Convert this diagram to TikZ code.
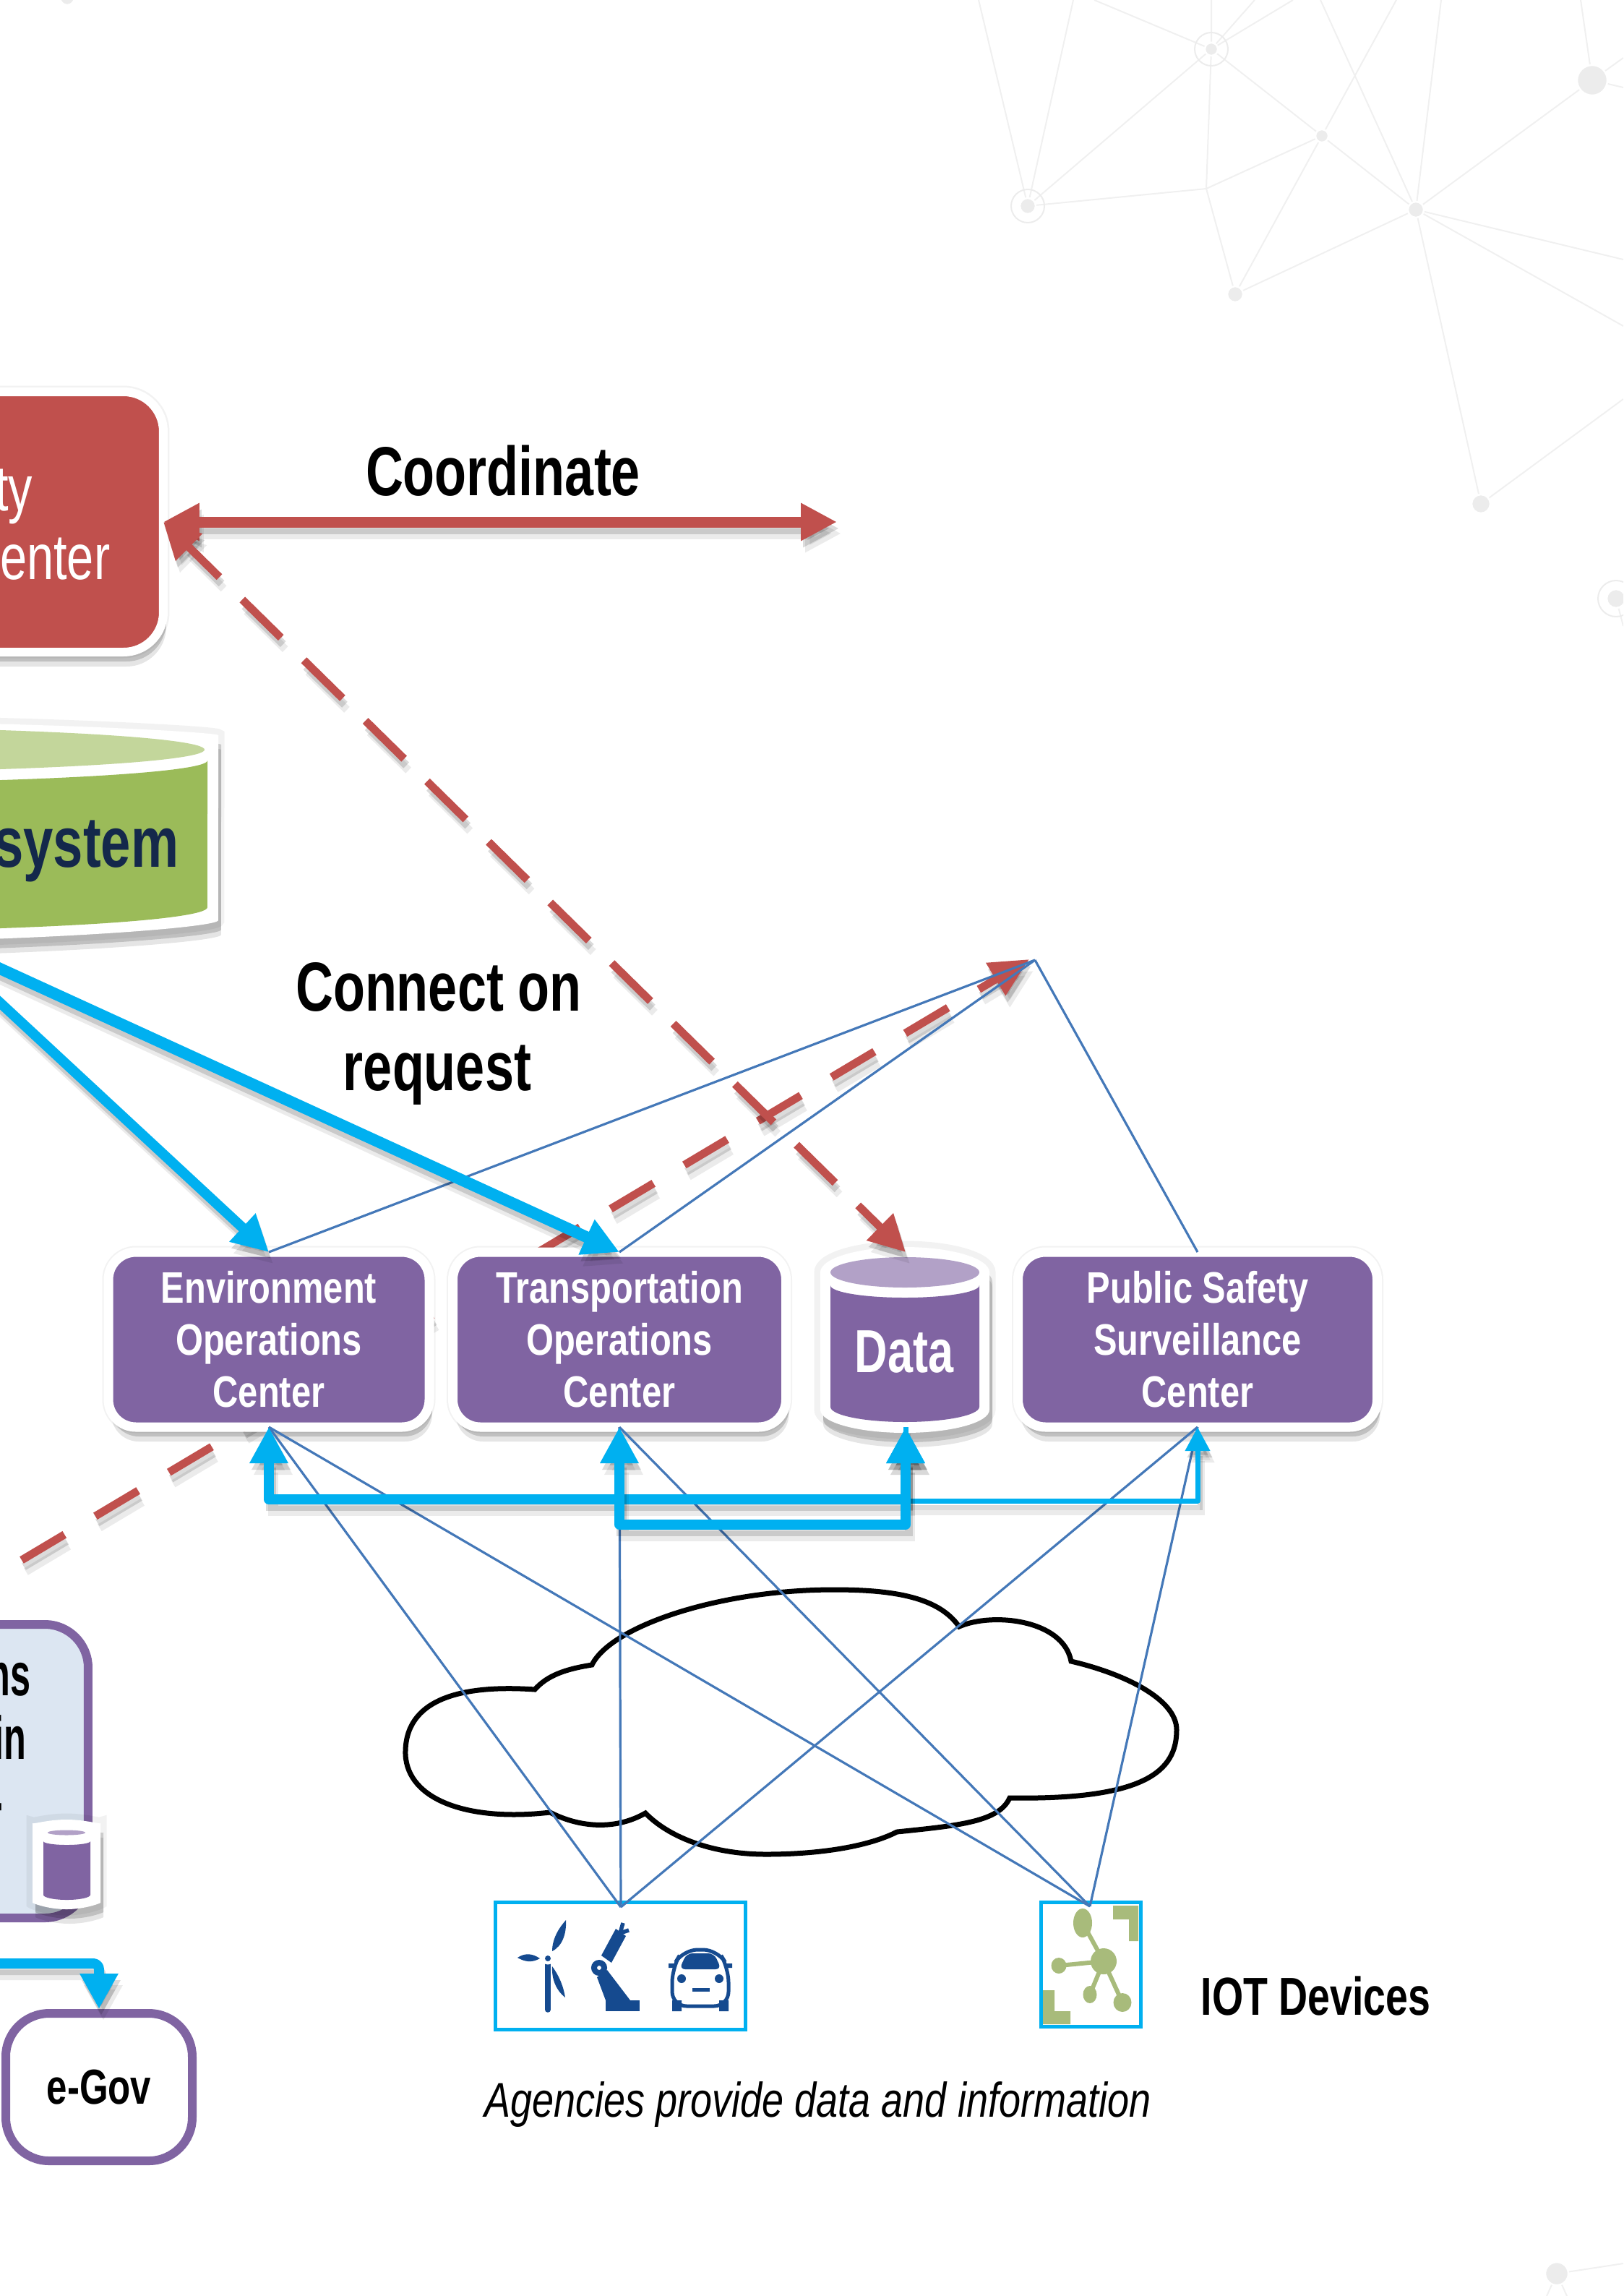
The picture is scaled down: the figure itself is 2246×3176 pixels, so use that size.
\documentclass[tikz,border=0pt]{standalone}
\usepackage{fontspec}
\usetikzlibrary{arrows.meta,shadows}
\setmainfont{Liberation Sans}
\newfontfamily\condfont[FakeStretch=0.75]{Liberation Sans}
\newfontfamily\widefont[FakeStretch=0.80]{Liberation Sans}
\newfontfamily\slimfont[FakeStretch=0.60]{Liberation Sans}
\definecolor{opspurple}{HTML}{8064A2}
\definecolor{opslight}{HTML}{B2A1C7}
\definecolor{cmdred}{HTML}{C0504D}
\definecolor{sysgreen}{HTML}{9BBB59}
\definecolor{syslight}{HTML}{C3D69B}
\definecolor{sysnavy}{HTML}{14284B}
\definecolor{busblue}{HTML}{00B0F0}
\definecolor{wireblue}{HTML}{4478B8}
\definecolor{iconblue}{HTML}{154A8F}
\definecolor{icongreen}{HTML}{A8BB7B}
\definecolor{bggray}{HTML}{ECECEC}
\definecolor{bgline}{HTML}{F0F0F0}
\definecolor{paleblue}{HTML}{DCE6F2}
\tikzset{
   softshadow/.style={
      preaction={draw=black,opacity=.05,line width=1.7mm},
      general shadow={shadow xshift=.4mm,shadow yshift=-1.3mm,fill=black,opacity=.16},
      general shadow={shadow xshift=.4mm,shadow yshift=-2mm,fill=black,opacity=.1}},
   lineshadow/.style={
      preaction={draw=black,opacity=.14,#1,transform canvas={xshift=.3mm,yshift=-.9mm}},
      preaction={draw=black,opacity=.08,#1,transform canvas={xshift=.6mm,yshift=-1.6mm}}},
   opsbox/.style={draw=white,fill=opspurple,line width=1.3mm,rounded corners=3.8mm,inner sep=0pt,outer sep=0pt,
      minimum height=24.2mm,text=white,align=center,softshadow,execute at begin node={\rule{0pt}{6.4mm}},
      font=\widefont\bfseries\fontsize{6.1mm}{7.2mm}\selectfont},
   bgdot/.style={circle,fill=bggray,draw=white,line width=.25mm,inner sep=0pt},
   bgring/.style={circle,draw=bggray,line width=.2mm,inner sep=0pt},
   bgwire/.style={draw=bgline,line width=.2mm},
   wire/.style={draw=wireblue,line width=.32mm},
   bluearrow/.style={draw=busblue,line join=round,line width=#1,lineshadow={line width=#1}},
   redarrow/.style={draw=cmdred,line width=1.5mm,lineshadow={line width=1.5mm}},
   reddash/.style={draw=cmdred,line width=1.1mm,dash=#1,lineshadow={line width=1.1mm,dash=#1}},
   blackbig/.style={text=black,font=\condfont\bfseries\fontsize{9.6mm}{11mm}\selectfont,align=center,inner sep=0pt},
   lowertext/.style={anchor=base east,inner sep=0pt,font=\slimfont\bfseries\fontsize{8.4mm}{9mm}\selectfont},
   devbox/.style={draw=busblue,line width=.5mm,fill=white,inner sep=0pt,outer sep=0pt},
   iconfill/.style={fill=iconblue,draw=none},
   leaf/.style={fill=icongreen,draw=none}
}
\begin{document}
\begin{tikzpicture}[x=.1mm,y=-.1mm]
   \clip (0,0) rectangle (2246,3176);

   \node[bgdot,minimum size=2.2mm] (nA) at (1422,285) {};
   \node[bgdot,minimum size=1.8mm] (nB) at (1676,68) {};
   \node[bgdot,minimum size=1.8mm] (nC) at (1829,188) {};
   \node[bgdot,minimum size=2.2mm] (nD) at (1959,290) {};
   \node[bgdot,minimum size=4.2mm] (nE) at (2203,111) {};
   \node[bgdot,minimum size=2.2mm] (nF) at (1709,407) {};
   \node[bgdot,minimum size=2.6mm] (nG) at (2049,697) {};
   \node[bgdot,minimum size=2.6mm] (nH) at (2236,828) {};
   \node[bgdot,minimum size=3.2mm] (nK) at (2154,3145) {};
   \node[bgdot,minimum size=2mm] (nL) at (93,-3) {};
   \coordinate (nJ) at (1669,261);
   \path[bgwire] (nA) -- (1354,0) (nA) -- (1485,0) (nA) -- (nB) (nA) -- (nJ);
   \path[bgwire] (nB) -- (1514,0) (nB) -- (1676,0) (nB) -- (1736,0) (nB) -- (1789,0);
   \path[bgwire] (nB) -- (nJ) (nB) -- (nC) (nJ) -- (nC) (nJ) -- (nF) (nC) -- (nF);
   \path[bgwire] (nC) -- (nD) (nC) -- (1932,0) (nD) -- (1827,0) (nD) -- (1994,0);
   \path[bgwire] (nD) -- (nE) (nD) -- (nF) (nD) -- (nG) (nD) -- (2246,359) (nD) -- (2246,451);
   \path[bgwire] (nE) -- (2187,0) (nE) -- (2246,80) (nE) -- (2246,121);
   \path[bgwire] (nG) -- (2246,552) (nH) -- (2246,866);
   \path[bgwire] (nK) -- (2246,3131) (nK) -- (2140,3176) (nK) -- (2168,3176);
   \node[bgring,minimum size=4.6mm] (rA) at (nA) {};
   \node[bgring,minimum size=4.6mm] (rB) at (nB) {};
   \node[bgring,minimum size=5mm] (rH) at (nH) {};

   \coordinate (dashfrom) at (30,2158);
   \coordinate (redtip) at (1424,1327);
   \draw[reddash=on 6.9mm off 4.96mm phase 0mm,-{Triangle[length=5.4mm,width=5mm]}] (dashfrom) -- (redtip);

   \draw[line width=.7mm] (761,2507)
      .. controls (648,2520) and (564,2490) .. (561,2427)
      .. controls (559,2350) and (638,2330) .. (740,2337)
      .. controls (757,2318) and (781,2309) .. (819,2303)
      .. controls (845,2250) and (993,2199) .. (1154,2199)
      .. controls (1239,2199) and (1299,2210) .. (1327,2250)
      .. controls (1373,2230) and (1471,2240) .. (1482,2298)
      .. controls (1555,2315) and (1628,2350) .. (1628,2393)
      .. controls (1628,2450) and (1584,2490) .. (1397,2487)
      .. controls (1382,2520) and (1328,2525) .. (1241,2534)
      .. controls (1200,2555) and (1131,2565) .. (1060,2565)
      .. controls (983,2565) and (924,2540) .. (893,2508)
      .. controls (855,2530) and (806,2530) .. cycle;

   \path[fill=white,softshadow,rounded corners=1.5mm] (302,1032)
      arc[start angle=0,end angle=180,x radius=60.2mm,y radius=3.46mm]
      -- (-902,1258) arc[start angle=180,end angle=360,x radius=60.2mm,y radius=4.6mm] -- cycle;
   \fill[syslight] (-300,1037) ellipse[x radius=58.3mm,y radius=3.15mm];
   \fill[sysgreen] (287,1052)
      arc[start angle=0,end angle=-180,x radius=58.7mm,y radius=3.15mm]
      -- (-887,1255) arc[start angle=180,end angle=360,x radius=58.7mm,y radius=3.38mm] -- cycle;
   \node[anchor=base east,inner sep=0pt,text=sysnavy,font=\condfont\bfseries\fontsize{9.9mm}{11mm}\selectfont] (systemtext) at (248,1199) {/system};

   \node[draw=white,fill=cmdred,line width=1.2mm,rounded corners=5.5mm,inner sep=0pt,outer sep=0pt,
      minimum width=80mm,minimum height=36mm,softshadow] (redbox) at (-174,722) {};
   \node[anchor=base east,inner sep=0pt,text=white,font=\condfont\fontsize{8.9mm}{10mm}\selectfont] (redtexta) at (46,706) {ty};
   \node[anchor=base east,inner sep=0pt,text=white,font=\condfont\fontsize{8.9mm}{10mm}\selectfont] (redtextb) at (153,801) {enter};

   \node[draw=opspurple,fill=paleblue,line width=1.2mm,rounded corners=6mm,inner sep=0pt,outer sep=0pt,
      minimum width=60mm,minimum height=40.6mm] (lowerbox) at (-178,2450) {};
   \node[lowertext] (lowera) at (43,2345) {ns};
   \node[lowertext] (lowerb) at (37,2433) {in};
   \node[lowertext] (lowerc) at (5,2521) {-};

   \path[fill=white,softshadow,rounded corners=1mm] (45,2532)
      arc[start angle=180,end angle=0,x radius=4.7mm,y radius=1.5mm]
      -- (139,2622) arc[start angle=0,end angle=-180,x radius=4.7mm,y radius=1.9mm] -- cycle;
   \fill[opslight] (92,2535) ellipse[x radius=2.6mm,y radius=.35mm];
   \fill[opspurple] (60,2547)
      arc[start angle=180,end angle=360,x radius=3.25mm,y radius=.5mm]
      -- (125,2621) arc[start angle=0,end angle=-180,x radius=3.25mm,y radius=.7mm] -- cycle;

   \node[opsbox,minimum width=44.4mm] (envbox) at (372,1853) {Environment\\Operations\\Center};
   \node[opsbox,minimum width=46.1mm] (transbox) at (857,1853) {Transportation\\Operations\\Center};
   \node[opsbox,minimum width=49.7mm] (survbox) at (1657,1853) {Public Safety\\Surveillance\\Center};

   \path[fill=white,softshadow] (1135,1760)
      arc[start angle=180,end angle=0,x radius=11.7mm,y radius=3.5mm]
      -- (1369,1950) arc[start angle=0,end angle=-180,x radius=11.7mm,y radius=3.2mm] -- cycle;
   \fill[opslight] (1252,1760) ellipse[x radius=10.3mm,y radius=2.1mm];
   \fill[opspurple] (1149,1778)
      arc[start angle=180,end angle=360,x radius=10.3mm,y radius=1.7mm]
      -- (1355,1946) arc[start angle=0,end angle=-180,x radius=10.3mm,y radius=2.1mm] -- cycle;
   \node[inner sep=0pt,outer sep=0pt,minimum width=23.4mm,minimum height=24.2mm] (databox) at (1253,1853) {};
   \node[inner sep=0pt,text=white,font=\condfont\bfseries\fontsize{8.4mm}{9mm}\selectfont] (datatext) at (1251,1870) {Data};

   \node[devbox,minimum width=34.6mm,minimum height=17.6mm] (devboxa) at (858,2719) {};
   \node[devbox,minimum width=13.8mm,minimum height=17.2mm] (devboxb) at (1509,2717) {};

   \coordinate (turbine) at (758,2709);
   \draw[iconblue,line width=.75mm,line cap=round] (turbine) -- (758,2780);
   \fill[white] (turbine) circle[radius=.85mm];
   \fill[iconfill] (turbine) circle[radius=.4mm];
   \fill[iconfill] (764,2699) .. controls (764,2680) and (775,2665) .. (783,2656) .. controls (784,2675) and (778,2692) .. cycle;
   \fill[iconfill] (747,2709) .. controls (735,2716) and (725,2713) .. (716,2708) .. controls (725,2702) and (735,2701) .. cycle;
   \fill[iconfill] (764,2720) .. controls (775,2735) and (780,2750) .. (782,2763) .. controls (770,2754) and (763,2738) .. cycle;

   \fill[iconfill] (838,2767) rectangle (885,2782);
   \fill[iconfill] (838,2767) -- (826,2735) -- (840,2725) -- (872,2767) -- cycle;
   \draw[iconblue,line width=.8mm] (829,2722) circle[radius=.7mm];
   \fill[iconfill] (832,2705) -- (852,2668) -- (866,2678) -- (846,2715) -- cycle;
   \draw[iconblue,line width=.55mm] (858,2674) -- (862,2660) (858,2674) -- (870,2670);

   \draw[iconblue,line width=.5mm,rounded corners=2mm] (930,2775) -- (930,2722) -- (945,2697) -- (993,2697) -- (1008,2722) -- (1008,2775) -- cycle;
   \fill[iconfill,rounded corners=.8mm] (940,2724) -- (950,2702) -- (988,2702) -- (998,2724) -- cycle;
   \fill[iconfill] (943,2737) circle[radius=.6mm] (995,2737) circle[radius=.6mm];
   \fill[iconfill] (958,2750) rectangle (982,2755);
   \fill[iconfill] (930,2767) rectangle (943,2782) (995,2767) rectangle (1008,2782);
   \fill[iconfill] (925,2716) rectangle (934,2722) (1004,2716) rectangle (1013,2722);

   \fill[leaf] (1540,2636) rectangle (1575,2655) (1562,2655) rectangle (1575,2685);
   \fill[leaf] (1443,2753) rectangle (1459,2800) (1443,2782) rectangle (1481,2800);
   \coordinate (nethub) at (1527,2713);
   \draw[icongreen,line width=.6mm] (nethub) -- (1498,2660) (nethub) -- (1465,2719) (nethub) -- (1508,2759) (nethub) -- (1553,2770);
   \fill[leaf] (nethub) circle[radius=1.8mm];
   \fill[leaf] (1498,2660) ellipse[x radius=1.3mm,y radius=2mm];
   \fill[leaf] (1465,2719) ellipse[x radius=1.05mm,y radius=1.1mm];
   \fill[leaf] (1508,2759) ellipse[x radius=.95mm,y radius=1.2mm];
   \fill[leaf] (1553,2770) ellipse[x radius=1.25mm,y radius=1.3mm];

   \node[draw=opspurple,fill=white,line width=1.2mm,rounded corners=6mm,inner sep=0pt,outer sep=.6mm,
      minimum width=25.8mm,minimum height=20.4mm,font=\condfont\bfseries\fontsize{6.8mm}{8mm}\selectfont] (egov) at (137,2887) {e-Gov};

   \coordinate (apex) at (1432,1328);
   \coordinate (devtopa) at (859,2638);
   \coordinate (devtopb) at (1508,2637);
   \draw[wire] (envbox.north) -- (apex);
   \draw[wire] (transbox.north) -- (apex);
   \draw[wire] (survbox.north) -- (apex);
   \draw[wire] (envbox.south) -- (devtopa);
   \draw[wire] (envbox.south) -- (devtopb);
   \draw[wire] (transbox.south) -- (devtopa);
   \draw[wire] (transbox.south) -- (devtopb);
   \draw[wire] (survbox.south) -- (devtopa);
   \draw[wire] (survbox.south) -- (devtopb);

   \coordinate (feeda) at (-15,1333);
   \coordinate (feedb) at (-15,1373);
   \coordinate (govfrom) at (-20,2716);
   \coordinate (coordend) at (1158,722);
   \draw[bluearrow=1.6mm,-{Triangle[length=5mm,width=5mm]}] (feeda) -- (transbox.north);
   \draw[bluearrow=1.4mm,-{Triangle[length=5mm,width=5mm]}] (feedb) -- (envbox.north);
   \draw[bluearrow=.7mm,-{Triangle[length=3.3mm,width=3.3mm]}] (databox.south) |- (1262,2076) -| (survbox.south);
   \draw[bluearrow=1.45mm,{Triangle[length=5mm,width=5mm]}-{Triangle[length=5mm,width=5mm]}] (envbox.south) -- ++(0,100) -| (databox.south);
   \draw[bluearrow=1.35mm,{Triangle[length=5mm,width=5mm]}-{Triangle[length=5mm,width=5mm]}] (transbox.south) -- ++(0,135) -| (databox.south);
   \draw[bluearrow=1.4mm,rounded corners=.8mm,-{Triangle[length=4.9mm,width=5mm]}] (govfrom) -| (egov.north);

   \draw[redarrow,{Triangle[length=5mm,width=4.9mm]}-{Triangle[length=5mm,width=4.9mm]}] (redbox.east) -- (coordend);
   \draw[reddash=on 7.5mm off 4.45mm phase 1.35mm,{Triangle[length=5mm,width=5mm]}-{Triangle[length=5mm,width=5mm]}] (redbox.east) -- (databox.north);

   \node[blackbig,anchor=base] (coordtext) at (696,686) {Coordinate};
   \node[blackbig,anchor=base] (connecta) at (607,1398) {Connect on};
   \node[blackbig,anchor=base] (connectb) at (605,1508) {request};
   \node[anchor=base west,inner sep=0pt,font=\condfont\bfseries\fontsize{7.4mm}{8mm}\selectfont] (iottext) at (1661,2787) {IOT Devices};
   \node[anchor=base west,inner sep=0pt,font=\widefont\itshape\fontsize{6.75mm}{8mm}\selectfont] (agencytext) at (670,2928) {Agencies provide data and information};
\end{tikzpicture}
\end{document}
